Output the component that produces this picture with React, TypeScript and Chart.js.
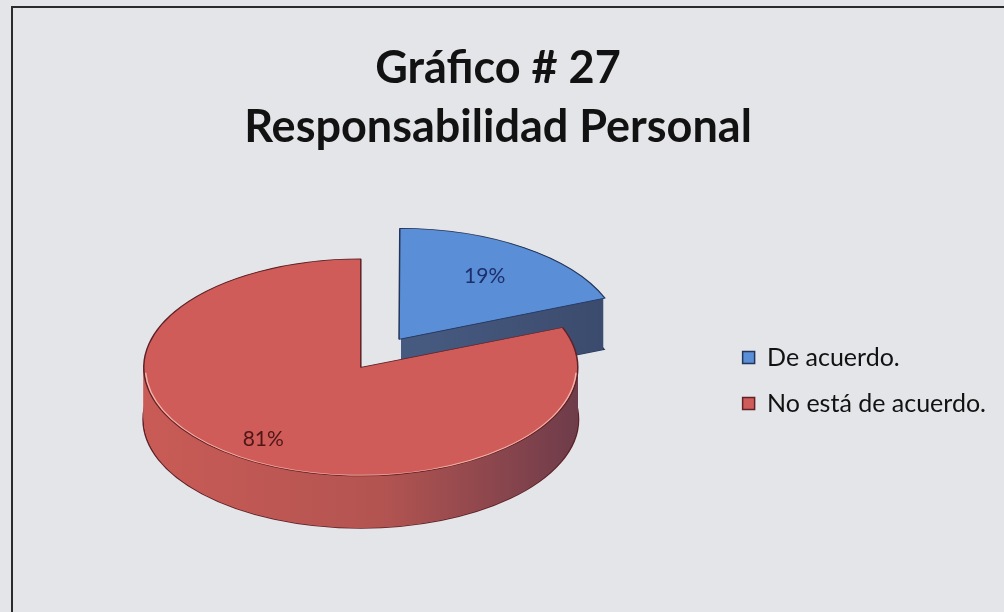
import React, { useEffect, useRef } from 'react';
import { Chart, registerables } from 'chart.js';

Chart.register(...registerables);

// ---- data ----
const categories = ['De acuerdo.', 'No está de acuerdo.'];
const values = [19, 81];
const titleLines = ['Gráfico # 27', 'Responsabilidad Personal'];

// ---- styles ----
const topColors = ['#5a8ed6', '#d05c5a'];
const edgeColors = ['#24355a', '#5e2228'];
const sideColors = [
  ['#4a5e88', '#46597f', '#3a4a6c'],
  ['#c95b56', '#b35451', '#6e3c4a'],
];
const rimHighlight = '#f2b3a8';
const labelColors = ['#1d2f6a', '#4f1616'];
const explode = [272, 0];
const labelFrac = [0.68, 0.8];
const TILT = 0.5; // vertical squash of the pie (perspective)
const DEPTH = 52; // thickness of the pie in screen pixels
const FONT = 'Lato, "Open Sans", sans-serif';

// same displacement Chart.js applies to an arc with an offset
function arcShift(arc: any) {
  const p = arc.getProps(['x', 'y', 'startAngle', 'endAngle', 'outerRadius', 'circumference']);
  const base = (arc.options.offset || 0) / 4;
  const fix = 1 - Math.sin(Math.min(Math.PI, p.circumference || 0));
  const eff = base + base * fix;
  const mid = (p.startAngle + p.endAngle) / 2;
  return { p, eff, mid, ox: p.x + Math.cos(mid) * eff, oy: p.y + Math.sin(mid) * eff };
}

const backdrop = {
  id: 'backdrop',
  beforeDraw(chart: any) {
    const { ctx, width, height } = chart;
    ctx.save();
    ctx.fillStyle = '#e3e5e8';
    ctx.fillRect(0, 0, width, height);
    ctx.strokeStyle = '#2b2b2b';
    ctx.lineWidth = 2;
    ctx.beginPath();
    ctx.moveTo(12, height + 5);
    ctx.lineTo(12, 7);
    ctx.lineTo(width + 5, 7);
    ctx.stroke();
    ctx.restore();
  },
};

const pie3d = {
  id: 'pie3d',
  beforeDatasetDraw(chart: any, args: any) {
    const ctx = chart.ctx;
    const arcs = args.meta.data;
    ctx.save();
    if (!arcs.length) return;
    const cx = arcs[0].x;
    const cy = arcs[0].y;
    ctx.translate(cx, cy);
    ctx.scale(1, TILT);
    ctx.translate(-cx, -cy);
    const depth = DEPTH / TILT;
    arcs.forEach((arc: any, i: number) => {
      const { p, ox, oy } = arcShift(arc);
      // outline of the bottom rim (only the silhouette stays visible)
      ctx.beginPath();
      ctx.arc(ox, oy + depth, p.outerRadius, p.startAngle, p.endAngle);
      if (i === 0) {
        ctx.lineTo(ox, oy + depth);
      }
      ctx.strokeStyle = edgeColors[i];
      ctx.lineWidth = 3;
      ctx.stroke();
      const g = ctx.createLinearGradient(ox - p.outerRadius, 0, ox + p.outerRadius, 0);
      g.addColorStop(0, sideColors[i][0]);
      g.addColorStop(0.55, sideColors[i][1]);
      g.addColorStop(1, sideColors[i][2]);
      ctx.fillStyle = g;
      for (let d = depth; d >= 0; d -= 1) {
        ctx.beginPath();
        ctx.moveTo(ox, oy + d);
        ctx.arc(ox, oy + d, p.outerRadius, p.startAngle, p.endAngle);
        ctx.closePath();
        ctx.fill();
      }
    });
  },
  afterDatasetDraw(chart: any, args: any) {
    const ctx = chart.ctx;
    // light rim on the front edge of the top faces
    args.meta.data.forEach((arc: any) => {
      const { p, ox, oy } = arcShift(arc);
      const a0 = Math.max(p.startAngle, 0.05);
      const a1 = Math.min(p.endAngle, Math.PI - 0.05);
      if (a1 > a0) {
        ctx.beginPath();
        ctx.arc(ox, oy, p.outerRadius - 1.5, a0, a1);
        ctx.strokeStyle = rimHighlight;
        ctx.lineWidth = 1.5;
        ctx.stroke();
      }
    });
    ctx.restore();
  },
};

const labels3d = {
  id: 'labels3d',
  afterDatasetsDraw(chart: any) {
    const ctx = chart.ctx;
    const meta = chart.getDatasetMeta(0);
    ctx.save();
    ctx.font = `21px ${FONT}`;
    ctx.textAlign = 'center';
    ctx.textBaseline = 'middle';
    meta.data.forEach((arc: any, i: number) => {
      const { p, eff, mid } = arcShift(arc);
      const r = eff + p.outerRadius * labelFrac[i];
      const x = p.x + Math.cos(mid) * r;
      const y = p.y + Math.sin(mid) * r * TILT;
      ctx.fillStyle = labelColors[i];
      ctx.fillText(`${values[i]}%`, x, y);
    });
    ctx.restore();
  },
};

export default function App() {
  const ref = useRef<HTMLCanvasElement | null>(null);
  useEffect(() => {
    if (!ref.current) return;
    const chart = new Chart(ref.current, {
      type: 'pie',
      data: {
        labels: categories,
        datasets: [
          {
            data: values,
            backgroundColor: topColors,
            borderColor: edgeColors,
            borderWidth: 1.5,
            offset: explode,
            radius: 217,
            clip: false,
          } as any,
        ],
      },
      options: {
        animation: false,
        responsive: true,
        maintainAspectRatio: false,
        events: [],
        rotation: 0,
        layout: { padding: { left: 0, right: 8, top: 0, bottom: 44 } },
        plugins: {
          title: {
            display: true,
            text: titleLines,
            color: '#121212',
            font: { family: FONT, weight: 'bold', size: 45, lineHeight: 1.31 },
            padding: { top: 39, bottom: 10 },
          },
          legend: {
            position: 'right',
            align: 'center',
            fullSize: false,
            title: { display: true, text: ' ', padding: 0, font: { size: 20, lineHeight: 1.3 } },
            labels: {
              color: '#121212',
              font: { family: FONT, size: 25 },
              boxWidth: 12,
              boxHeight: 12,
              padding: 21,
            },
          },
          tooltip: { enabled: false },
        },
      } as any,
      plugins: [backdrop, pie3d, labels3d],
    });
    return () => chart.destroy();
  }, []);
  return (
    <div style={{ position: 'absolute', left: 0, top: 0, width: 1004, height: 612 }}>
      <canvas ref={ref} />
    </div>
  );
}
